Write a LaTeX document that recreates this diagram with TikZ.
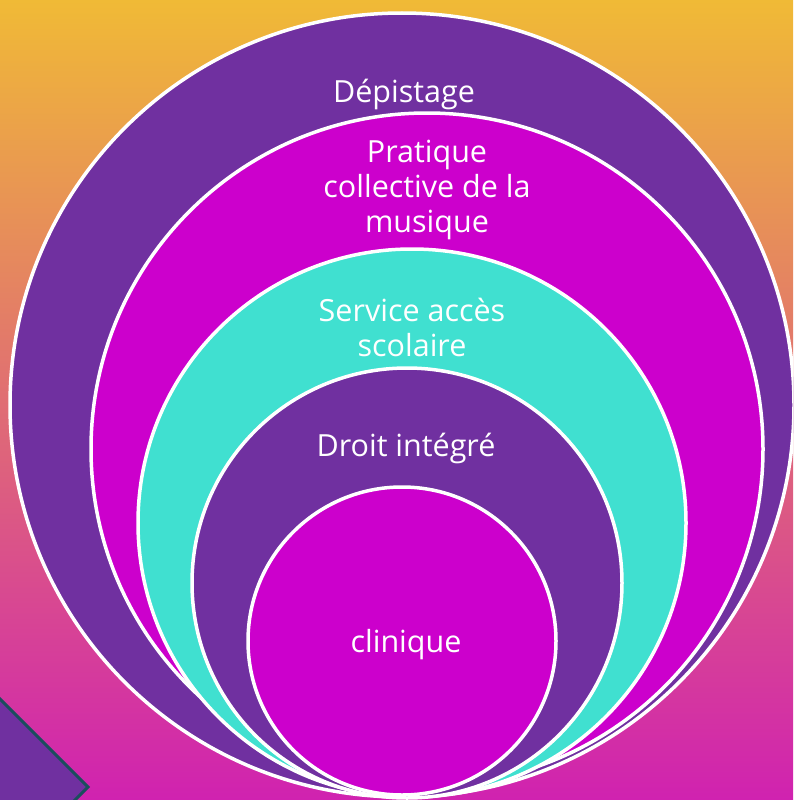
\documentclass[tikz,border=0pt]{standalone}
\usepackage{fontspec}
\setmainfont{Open Sans}
\definecolor{ringpurple}{HTML}{7030A0}
\definecolor{ringmagenta}{HTML}{CC00CC}
\definecolor{ringteal}{HTML}{40E0D0}
\definecolor{bgtop}{HTML}{F0BA36}
\definecolor{bgmid}{HTML}{E2706E}
\definecolor{bgbottom}{HTML}{D022B0}
\definecolor{decoedge}{HTML}{1B4D5E}
\begin{document}
\begin{tikzpicture}[x=1pt,y=-1pt]
			\tikzstyle{ring}=[circle, draw=white, line width=3.5pt, inner sep=0pt]
			\tikzstyle{ringtext}=[text=white, inner sep=0pt, align=center, font=\fontsize{30.5}{35}\selectfont]
			\useasboundingbox (0,0) rectangle (793,800);
			\clip (0,0) rectangle (793,800);
			\shade [top color=bgtop, middle color=bgmid, bottom color=bgbottom] (0,0) rectangle (793,800);
			\draw [fill=ringpurple, draw=decoedge, line width=3pt] (88,787) -- (-2,697) -- (-92,787) -- (-2,877) -- cycle;
			\node [ring, fill=ringpurple, minimum size=784] (depistage) at (402,405) {};
			\node [ring, fill=ringmagenta, minimum size=672] (pratique) at (427,449) {};
			\node [ring, fill=ringteal, minimum size=548] (service) at (412,523) {};
			\node [ring, fill=ringpurple, minimum size=430] (droit) at (407,583) {};
			\node [ring, fill=ringmagenta, minimum size=308] (clinique) at (402,641) {};
			\node [ringtext] (tdepistage) at (404,94) {Dépistage};
			\node [ringtext] (tpratique) at (427,190) {Pratique\\collective de la\\musique};
			\node [ringtext] (tservice) at (412,327) {Service accès\\scolaire};
			\node [ringtext] (tdroit) at (406,448) {Droit intégré};
			\node [ringtext] (tclinique) at (406,645) {clinique};
		\end{tikzpicture}
\end{document}
